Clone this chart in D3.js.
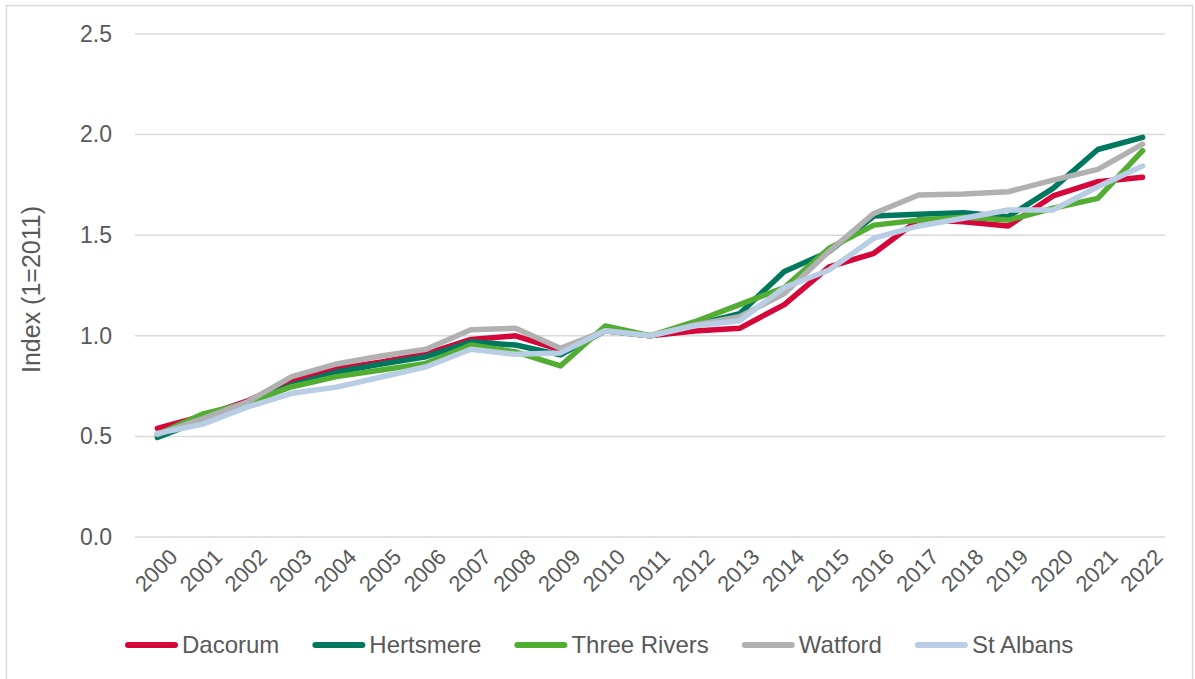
<!DOCTYPE html>
<html>
<head>
<meta charset="utf-8">
<script src="https://cdn.jsdelivr.net/npm/d3@7"></script>
<style>
  html, body { margin: 0; padding: 0; background: #fff; }
  svg { display: block; font-family: "Liberation Sans", Arial, sans-serif; }
</style>
</head>
<body>
<svg id="chart" width="1195" height="679"></svg>
<script>
const years = ["2000","2001","2002","2003","2004","2005","2006","2007","2008","2009","2010","2011","2012","2013","2014","2015","2016","2017","2018","2019","2020","2021","2022"];
const seriesNames = ["Dacorum","Hertsmere","Three Rivers","Watford","St Albans"];
const seriesColors = ["#D5063A","#00775F","#52AE32","#B1B1B1","#B9CDE5"];
const dacorum     = [0.54,0.60,0.675,0.775,0.837,0.87,0.91,0.982,1.0,0.93,1.025,1.0,1.024,1.037,1.155,1.343,1.41,1.577,1.567,1.546,1.695,1.766,1.788];
const hertsmere   = [0.495,0.58,0.66,0.755,0.82,0.86,0.896,0.97,0.954,0.905,1.025,1.0,1.054,1.11,1.32,1.418,1.595,1.604,1.612,1.592,1.733,1.926,1.986];
const threeRivers = [0.51,0.61,0.665,0.747,0.797,0.83,0.863,0.954,0.92,0.85,1.049,1.0,1.07,1.155,1.24,1.435,1.55,1.575,1.589,1.575,1.634,1.683,1.92];
const watford     = [0.51,0.587,0.67,0.797,0.86,0.90,0.933,1.03,1.037,0.938,1.025,1.0,1.054,1.095,1.21,1.42,1.608,1.70,1.705,1.716,1.774,1.827,1.953];
const stAlbans    = [0.515,0.56,0.645,0.714,0.745,0.795,0.846,0.933,0.908,0.915,1.025,1.0,1.05,1.075,1.24,1.327,1.485,1.546,1.584,1.625,1.625,1.741,1.844];
const yTicks = [0.0,0.5,1.0,1.5,2.0,2.5];
const yTitle = "Index (1=2011)";

const seriesValues = [dacorum, hertsmere, threeRivers, watford, stAlbans];

const svg = d3.select("#chart");
const plot = {left: 135, right: 1165, top: 34, bottom: 537};

// outer border
svg.append("rect").attr("x", 6.5).attr("y", 5.5).attr("width", 1186).attr("height", 700)
  .attr("fill", "#fff").attr("stroke", "#d9d9d9").attr("stroke-width", 1.5);

const x = d3.scaleBand().domain(years).range([plot.left, plot.right]);
const y = d3.scaleLinear().domain([0, 2.5]).range([plot.bottom, plot.top]);

// gridlines
svg.append("g").selectAll("line").data(yTicks).join("line")
  .attr("x1", plot.left).attr("x2", plot.right)
  .attr("y1", d => y(d)).attr("y2", d => y(d))
  .attr("stroke", "#d9d9d9").attr("stroke-width", 1.5);

// y axis labels
const yAxis = d3.axisLeft(y).tickValues(yTicks).tickFormat(d3.format(".1f")).tickSize(0).tickPadding(0);
const gy = svg.append("g").attr("transform", `translate(112,0)`).call(yAxis);
gy.select(".domain").remove();
gy.selectAll("text").attr("font-size", 23).attr("fill", "#595959")
  .attr("font-family", "Liberation Sans, Arial, sans-serif");

// x axis labels
const xAxis = d3.axisBottom(x).tickSize(0).tickPadding(0);
const gx = svg.append("g").attr("transform", `translate(0,${plot.bottom})`).call(xAxis);
gx.select(".domain").remove();
gx.selectAll("text")
  .attr("font-size", 22).attr("fill", "#595959")
  .attr("font-family", "Liberation Sans, Arial, sans-serif")
  .attr("text-anchor", "end")
  .attr("dy", "0.35em")
  .attr("transform", "translate(16,16) rotate(-45)")
  .attr("y", 0).attr("x", 0);

// y title
svg.append("text")
  .attr("transform", `translate(40,${(plot.top+plot.bottom)/2 + 4}) rotate(-90)`)
  .attr("text-anchor", "middle")
  .attr("font-size", 25).attr("fill", "#595959")
  .text(yTitle);

// lines
const line = d3.line().x((d, i) => x(years[i]) + x.bandwidth()/2).y(d => y(d));
svg.append("g").selectAll("path").data(seriesValues).join("path")
  .attr("d", d => line(d))
  .attr("fill", "none")
  .attr("stroke", (d, i) => seriesColors[i])
  .attr("stroke-width", 5.5)
  .attr("stroke-linejoin", "round")
  .attr("stroke-linecap", "round");

// legend
const legend = svg.append("g");
const items = legend.selectAll("g").data(seriesNames).join("g");
items.append("line").attr("x1", 3).attr("x2", 50).attr("y1", 0).attr("y2", 0)
  .attr("stroke", (d, i) => seriesColors[i]).attr("stroke-width", 6).attr("stroke-linecap", "round");
items.append("text").attr("x", 57).attr("y", 0).attr("dy", "0.35em")
  .attr("font-size", 24).attr("fill", "#595959").text(d => d);
let cx = 0;
const offsets = [];
items.each(function(d, i) {
  const tw = d3.select(this).select("text").node().getComputedTextLength();
  offsets.push(cx);
  cx += 57 + tw + 33;
});
const total = cx - 33;
const startX = 125;
items.attr("transform", (d, i) => `translate(${startX + offsets[i]},645)`);
</script>
</body>
</html>
